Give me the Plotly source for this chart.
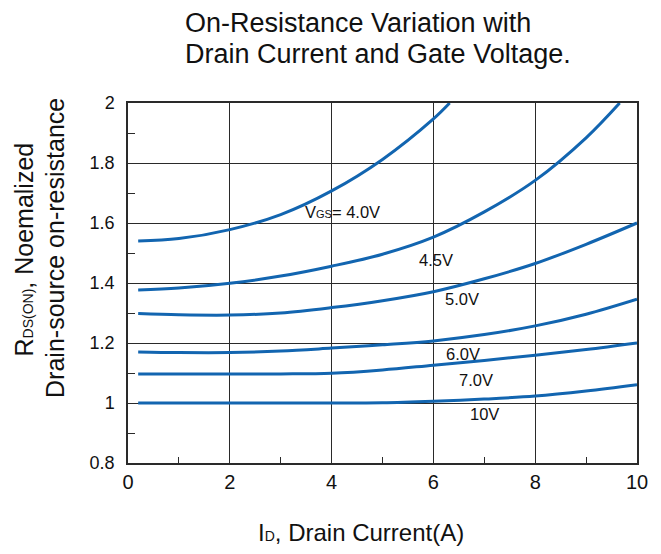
"""
On-resistance variation with drain current and gate voltage.
"""
import plotly.graph_objects as go

BLUE = "#1265b0"
INK = "#111111"
FONT = "Liberation Sans, Arial, sans-serif"

# drain current (A) sample points per curve, normalized R_DS(on)
ID_40 = [0.2, 1, 2, 3, 4, 5, 6, 6.32]
R_40 = [1.54, 1.548, 1.578, 1.628, 1.707, 1.812, 1.947, 2.0]

ID_45 = [0.2, 1, 2, 3, 4, 5, 6, 7, 8, 9, 9.66]
R_45 = [1.377, 1.383, 1.399, 1.423, 1.456, 1.496, 1.553, 1.637, 1.742, 1.884, 2.0]

ID_FULL = [0.2, 1, 2, 3, 4, 5, 6, 7, 8, 9, 10]
R_50 = [1.298, 1.294, 1.293, 1.30, 1.318, 1.341, 1.371, 1.414, 1.465, 1.529, 1.6]
R_60 = [1.17, 1.168, 1.168, 1.173, 1.183, 1.194, 1.207, 1.228, 1.257, 1.296, 1.346]
R_70 = [1.097, 1.097, 1.097, 1.097, 1.099, 1.11, 1.126, 1.142, 1.159, 1.178, 1.2]
R_10 = [1.0, 1.0, 1.0, 1.0, 1.0, 1.001, 1.006, 1.013, 1.023, 1.04, 1.061]

CURVES = [
    (ID_40, R_40), (ID_45, R_45), (ID_FULL, R_50),
    (ID_FULL, R_60), (ID_FULL, R_70), (ID_FULL, R_10),
]

SMALL = "<span style='font-size:11px'>"
# label text, x, y (data coords)
LABELS = [
    ("V" + SMALL + "GS</span>= 4.0V", 3.43, 1.637),
    ("4.5V", 5.68, 1.476),
    ("5.0V", 6.19, 1.348),
    ("6.0V", 6.21, 1.162),
    ("7.0V", 6.47, 1.078),
    ("10V", 6.67, 0.962),
]

fig = go.Figure()
for xs, ys in CURVES:
    fig.add_trace(go.Scatter(
        x=xs, y=ys, mode="lines",
        line=dict(color=BLUE, width=3, shape="spline", smoothing=1.0),
        showlegend=False, hoverinfo="skip",
    ))

for text, x, y in LABELS:
    fig.add_annotation(x=x, y=y, xref="x", yref="y", text=text, showarrow=False,
                       xanchor="left", yanchor="middle",
                       font=dict(size=16.5, color=INK, family=FONT))

# title, two left-aligned lines
for text, y in [("On-Resistance Variation with", 1.223),
                ("Drain Current and Gate Voltage.", 1.1366)]:
    fig.add_annotation(x=0.1088, y=y, xref="paper", yref="paper", text=text,
                       showarrow=False, xanchor="left", yanchor="middle",
                       font=dict(size=27, color=INK, family=FONT))

# y axis title, two rotated lines
fig.add_annotation(x=-0.2043, y=0.593, xref="paper", yref="paper",
                   text="R<span style='font-size:14px'>DS(ON)</span>, Noemalized",
                   textangle=-90, showarrow=False, xanchor="center", yanchor="middle",
                   font=dict(size=25, color=INK, family=FONT))
fig.add_annotation(x=-0.1437, y=0.597, xref="paper", yref="paper",
                   text="Drain-source on-resistance", textangle=-90,
                   showarrow=False, xanchor="center", yanchor="middle",
                   font=dict(size=25, color=INK, family=FONT))

# x axis title
fig.add_annotation(x=0.458, y=-0.194, xref="paper", yref="paper",
                   text="I<span style='font-size:14px'>D</span>, Drain Current(A)",
                   showarrow=False, xanchor="center", yanchor="middle",
                   font=dict(size=24, color=INK, family=FONT))

fig.update_layout(
    width=661, height=554,
    margin=dict(l=127.5, r=23.5, t=102.5, b=91.3),
    paper_bgcolor="white", plot_bgcolor="white",
    font=dict(family=FONT, color=INK),
    showlegend=False,
)
fig.update_xaxes(
    range=[0, 10], dtick=2, tick0=0,
    showgrid=True, gridcolor="#2a2a2a", gridwidth=1.2,
    zeroline=False, showline=True, linecolor="#2a2a2a", linewidth=1.5, mirror=True,
    ticks="", tickfont=dict(size=20, color=INK),
    minor=dict(dtick=1, ticks="inside", ticklen=6, tickcolor="#2a2a2a", showgrid=False),
)
fig.update_yaxes(
    range=[0.8, 2], dtick=0.2, tick0=0.8,
    showgrid=True, gridcolor="#2a2a2a", gridwidth=1.2,
    zeroline=False, showline=True, linecolor="#2a2a2a", linewidth=1.5, mirror=True,
    ticks="", ticklabelstandoff=8, tickfont=dict(size=18, color=INK),
    minor=dict(dtick=0.1, ticks="inside", ticklen=7, tickcolor="#2a2a2a", showgrid=False),
)

fig.write_html("out.html", config={"displayModeBar": False},
               post_script="document.body.style.margin='0px';")
